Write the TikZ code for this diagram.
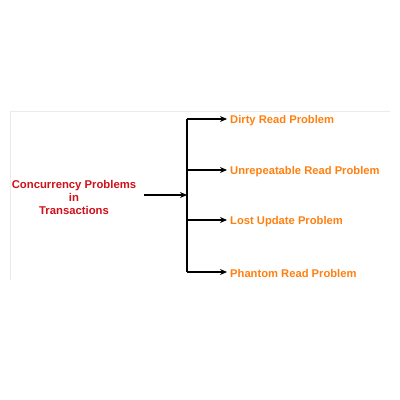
\documentclass[tikz,border=0pt]{standalone}
\usepackage{fontspec}
\setmainfont{Liberation Sans}
\usetikzlibrary{arrows.meta}
\definecolor{cred}{HTML}{D0101A}
\definecolor{corange}{HTML}{FF8010}
\begin{document}
\begin{tikzpicture}[x=1pt,y=1pt,
  arr/.style={draw=black,line width=1.1pt,-{Stealth[length=7pt,width=6pt]}},
  lbl/.style={font=\bfseries\fontsize{11.2}{13}\selectfont,text=corange,anchor=west,inner sep=0pt},
  root/.style={font=\bfseries\fontsize{11.3}{13}\selectfont,text=cred,align=center,inner sep=0pt}]
\useasboundingbox[fill=white] (0,0) rectangle (400,400);
\draw[black!8,line width=0.6pt] (10.5,120) -- (10.5,288.5) -- (390,288.5);
\node[root] (r) at (74,203) {Concurrency Problems\\in\\Transactions};
\coordinate (s) at (144,205);
\coordinate (j) at (187,205);
\coordinate (t) at (187,281);
\coordinate (m1) at (187,230);
\coordinate (m2) at (187,180);
\coordinate (b) at (187,128);
\node[lbl] (a1) at (230,279.5) {Dirty Read Problem};
\node[lbl] (a2) at (230,228.5) {Unrepeatable Read Problem};
\node[lbl] (a3) at (230,178.5) {Lost Update Problem};
\node[lbl] (a4) at (230,126.5) {Phantom Read Problem};
\draw[arr] (s) -- (j);
\draw[line width=1.1pt] (t) -- (b);
\draw[arr,shorten >=3pt] (t) -- (t -| a1.west);
\draw[arr,shorten >=3pt] (m1) -- (m1 -| a2.west);
\draw[arr,shorten >=3pt] (m2) -- (m2 -| a3.west);
\draw[arr,shorten >=3pt] (b) -- (b -| a4.west);
\end{tikzpicture}
\end{document}
